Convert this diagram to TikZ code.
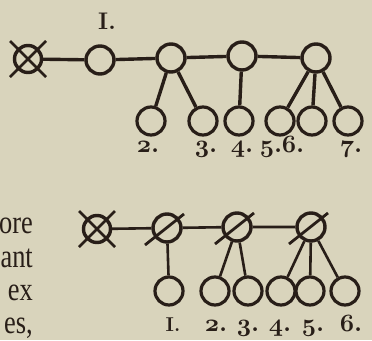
\documentclass[tikz,border=0pt]{standalone}
\usepackage{fontspec}
\newfontfamily\bookfont[FakeStretch=0.8]{Liberation Serif}
\definecolor{paper}{RGB}{217,212,188}
\definecolor{ink}{RGB}{40,30,24}
\newcommand\osn[1]{{\fontencoding{OML}\fontfamily{cmm}\fontseries{b}\fontshape{it}\selectfont #1}}
\begin{document}
\begin{tikzpicture}[x=1pt,y=-1pt,
  ring/.style={circle,draw=ink,line width=3.4pt,minimum size=28pt,inner sep=0pt},
  leaf/.style={circle,draw=ink,line width=3.2pt,minimum size=28pt,inner sep=0pt},
  tline/.style={draw=ink,line width=3.4pt},
  bline/.style={draw=ink,line width=2.6pt},
  mark line/.style={draw=ink,line width=2.8pt},
  lab/.style={anchor=base,inner sep=0pt,text=ink,font=\fontsize{26}{26}\selectfont\bfseries},
  prose/.style={anchor=base east,inner sep=0pt,text=ink,font=\bookfont\fontsize{33}{33}\selectfont}]
\fill[paper] (0,0) rectangle (372,340);
\useasboundingbox (0,0) rectangle (372,340);
% ---------- top diagram ----------
\node[ring,minimum size=27pt] (x0) at (28,59) {};
\node[ring] (t1) at (100,60) {};
\node[ring] (tA) at (171,58) {};
\node[ring] (tB) at (242,56) {};
\node[ring] (tC) at (316,58) {};
\foreach \n/\x in {b1/151,b2/203,b3/239,b4/280,b5/312,b6/348}
  \node[leaf] (\n) at (\x,121) {};
\draw[mark line] ([shift={(-18,-18)}]x0.center) -- ([shift={(18,18)}]x0.center);
\draw[mark line] ([shift={(18,-18)}]x0.center) -- ([shift={(-18,18)}]x0.center);
\path[tline] (x0) -- (t1) (t1) -- (tA) (tA) -- (tB) (tB) -- (tC);
\path[tline] (tA) -- (b1) (tA) -- (b2) (tB) -- (b3) (tC) -- (b4) (tC) -- (b5) (tC) -- (b6);
\node[lab] (l0) at (107,29) {\fontsize{24}{24}\selectfont I.};
\node[lab] (l2) at (148,152) {\osn{2}.};
\node[lab] (l3) at (206,152) {\osn{3}.};
\node[lab] (l4) at (242,152) {\osn{4}.};
\node[lab] (l5) at (271,152) {\osn{5}.};
\node[lab] (l6) at (293,152) {\osn{6}.};
\node[lab] (l7) at (351,152) {\osn{7}.};
% ---------- bottom diagram ----------
\node[ring,minimum size=27pt] (y0) at (97,229) {};
\node[ring] (s1) at (167,228) {};
\node[ring] (s2) at (237,227) {};
\node[ring] (s3) at (311,227) {};
\foreach \n/\x in {d1/169,d2/215,d3/248,d4/281,d5/310,d6/345}
  \node[leaf] (\n) at (\x,291) {};
\draw[mark line] ([shift={(-18,-18)}]y0.center) -- ([shift={(18,18)}]y0.center);
\draw[mark line] ([shift={(18,-18)}]y0.center) -- ([shift={(-18,18)}]y0.center);
\foreach \s in {s1,s2,s3}
  \draw[mark line] ([shift={(-22,17)}]\s.center) -- ([shift={(17,-14)}]\s.center);
\path[bline] (y0) -- (s1) (s1) -- (s2) (s2) -- (s3);
\path[bline] (s1) -- (d1) (s2) -- (d2) (s2) -- (d3) (s3) -- (d4) (s3) -- (d5) (s3) -- (d6);
\node[lab] (m1) at (173,331) {\fontsize{20}{20}\selectfont I.};
\node[lab] (m2) at (216,331) {\osn{2}.};
\node[lab] (m3) at (248,331) {\osn{3}.};
\node[lab] (m4) at (280,331) {\osn{4}.};
\node[lab] (m5) at (313,331) {\osn{5}.};
\node[lab] (m6) at (351,331) {\osn{6}.};
% ---------- text at left margin ----------
\node[prose] (p1) at (33,233) {ore};
\node[prose] (p2) at (33,267) {ant};
\node[prose] (p3) at (33,300) {ex};
\node[prose] (p4) at (33,333) {es,};
\end{tikzpicture}
\end{document}
